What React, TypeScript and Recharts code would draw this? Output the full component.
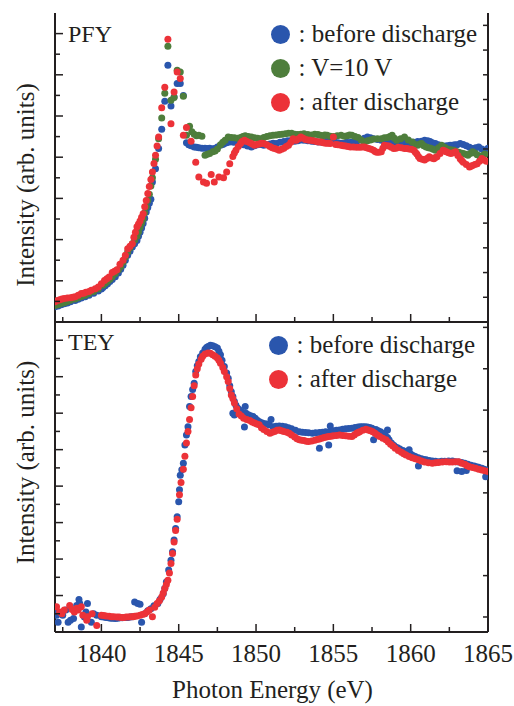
import { ScatterChart, Scatter, XAxis, YAxis, Legend, Label } from "recharts";

// PFY panel (upper)
const pfyBeforeE = [
  1837.0, 1837.2, 1837.4, 1837.6, 1837.8, 1838.0, 1838.3, 1838.5, 1838.7, 1838.95,
  1839.2, 1839.5, 1839.8, 1840.0, 1840.1, 1840.25, 1840.4, 1840.55, 1840.7, 1840.9,
  1841.1, 1841.25, 1841.4, 1841.55, 1841.7, 1841.85, 1842.0, 1842.15, 1842.3, 1842.4,
  1842.5, 1842.6, 1842.7, 1842.8, 1842.9, 1843.0, 1843.1, 1843.2, 1843.3, 1843.5,
  1843.7, 1843.9, 1844.1, 1844.3, 1844.5, 1844.7, 1844.9, 1845.1, 1845.3, 1845.5,
  1845.65, 1845.8, 1846.0, 1846.15, 1846.3, 1846.5, 1846.7, 1846.85, 1847.0, 1847.15,
  1847.3, 1847.5, 1847.7, 1847.85, 1847.95, 1848.1, 1848.3, 1848.55, 1848.8, 1849.0,
  1849.2, 1849.45, 1849.7, 1849.9, 1850.1, 1850.3, 1850.5, 1850.7, 1850.9, 1851.1,
  1851.3, 1851.55, 1851.8, 1852.05, 1852.3, 1852.5, 1852.7, 1852.9, 1853.1, 1853.35,
  1853.6, 1853.8, 1854.0, 1854.25, 1854.5, 1854.7, 1854.9, 1855.1, 1855.3, 1855.5,
  1855.7, 1855.85, 1856.0, 1856.15, 1856.3, 1856.55, 1856.8, 1857.0, 1857.2, 1857.4,
  1857.6, 1857.85, 1858.1, 1858.3, 1858.5, 1858.7, 1858.9, 1859.1, 1859.3, 1859.55,
  1859.8, 1860.0, 1860.2, 1860.45, 1860.7, 1860.9, 1861.1, 1861.25, 1861.4, 1861.6,
  1861.8, 1861.95, 1862.1, 1862.25, 1862.4, 1862.55, 1862.7, 1862.85, 1863.0, 1863.2,
  1863.4, 1863.6, 1863.8, 1864.0, 1864.2, 1864.4, 1864.6, 1864.8, 1865.0,
];
const pfyBeforeI = [
  0.37, 0.39, 0.42, 0.44, 0.46, 0.49, 0.52, 0.55, 0.58, 0.61,
  0.65, 0.70, 0.75, 0.80, 0.84, 0.88, 0.93, 0.98, 1.03, 1.10,
  1.19, 1.28, 1.38, 1.50, 1.62, 1.72, 1.82, 1.90, 1.98, 2.08,
  2.18, 2.28, 2.39, 2.52, 2.67, 2.78, 2.88, 2.98, 3.40, 3.72,
  4.21, 4.68, 5.36, 6.23, 5.24, 5.46, 5.79, 5.79, 5.50, 4.35,
  4.30, 4.28, 4.25, 4.24, 4.23, 4.22, 4.22, 4.21, 4.22, 4.20,
  4.21, 4.25, 4.29, 4.31, 4.33, 4.35, 4.37, 4.36, 4.37, 4.33,
  4.30, 4.27, 4.25, 4.28, 4.30, 4.31, 4.29, 4.30, 4.32, 4.34,
  4.33, 4.36, 4.38, 4.40, 4.41, 4.39, 4.40, 4.42, 4.41, 4.40,
  4.39, 4.38, 4.37, 4.36, 4.38, 4.39, 4.37, 4.36, 4.35, 4.34,
  4.33, 4.36, 4.35, 4.36, 4.37, 4.40, 4.42, 4.46, 4.49, 4.47,
  4.45, 4.43, 4.41, 4.39, 4.37, 4.35, 4.33, 4.34, 4.35, 4.34,
  4.33, 4.35, 4.36, 4.38, 4.39, 4.41, 4.40, 4.38, 4.35, 4.33,
  4.30, 4.27, 4.25, 4.27, 4.28, 4.29, 4.29, 4.30, 4.30, 4.33,
  4.31, 4.28, 4.24, 4.21, 4.23, 4.25, 4.20, 4.17, 4.22,
];

const pfyV10E = [
  1837.0, 1837.2, 1837.4, 1837.6, 1837.8, 1838.0, 1838.3, 1838.5, 1838.7, 1838.95,
  1839.2, 1839.5, 1839.8, 1840.1, 1840.25, 1840.4, 1840.55, 1840.7, 1840.9, 1841.1,
  1841.25, 1841.4, 1841.55, 1841.7, 1841.85, 1842.0, 1842.15, 1842.3, 1842.4, 1842.5,
  1842.6, 1842.7, 1842.8, 1842.9, 1843.0, 1843.1, 1843.2, 1843.3, 1843.5, 1843.7,
  1843.9, 1844.1, 1844.3, 1844.5, 1844.7, 1844.9, 1845.1, 1845.3, 1845.5, 1845.7,
  1845.85, 1846.0, 1846.15, 1846.3, 1846.5, 1846.7, 1846.85, 1847.0, 1847.2, 1847.35,
  1847.5, 1847.7, 1847.85, 1848.0, 1848.2, 1848.4, 1848.6, 1848.8, 1849.0, 1849.15,
  1849.3, 1849.5, 1849.7, 1849.9, 1850.1, 1850.3, 1850.5, 1850.7, 1850.9, 1851.1,
  1851.3, 1851.5, 1851.7, 1851.9, 1852.1, 1852.3, 1852.5, 1852.7, 1852.9, 1853.1,
  1853.35, 1853.6, 1853.8, 1854.0, 1854.15, 1854.3, 1854.45, 1854.6, 1854.8, 1855.0,
  1855.25, 1855.5, 1855.7, 1855.9, 1856.05, 1856.2, 1856.4, 1856.6, 1856.8, 1857.0,
  1857.2, 1857.4, 1857.6, 1857.85, 1858.1, 1858.3, 1858.5, 1858.65, 1858.8, 1858.95,
  1859.1, 1859.35, 1859.6, 1859.85, 1860.1, 1860.3, 1860.45, 1860.6, 1860.7, 1860.85,
  1861.0, 1861.15, 1861.3, 1861.45, 1861.6, 1861.8, 1862.0, 1862.2, 1862.4, 1862.6,
  1862.8, 1862.95, 1863.1, 1863.25, 1863.4, 1863.55, 1863.7, 1863.85, 1864.0, 1864.15,
  1864.3, 1864.5, 1864.65, 1864.8,
];
const pfyV10I = [
  0.40, 0.42, 0.45, 0.47, 0.50, 0.53, 0.56, 0.59, 0.62, 0.65,
  0.69, 0.74, 0.80, 0.89, 0.94, 0.99, 1.04, 1.10, 1.18, 1.27,
  1.35, 1.45, 1.58, 1.70, 1.80, 1.90, 1.99, 2.08, 2.19, 2.30,
  2.40, 2.50, 2.65, 2.80, 2.95, 3.10, 3.30, 3.50, 3.95, 4.45,
  4.95, 5.55, 6.69, 5.38, 5.45, 6.11, 6.07, 5.48, 4.53, 4.75,
  4.62, 4.56, 4.52, 4.53, 4.51, 4.05, 4.07, 4.09, 4.13, 4.15,
  4.20, 4.30, 4.36, 4.41, 4.49, 4.48, 4.47, 4.46, 4.48, 4.50,
  4.52, 4.50, 4.49, 4.47, 4.46, 4.45, 4.48, 4.50, 4.52, 4.53,
  4.54, 4.55, 4.56, 4.57, 4.58, 4.58, 4.56, 4.55, 4.56, 4.57,
  4.55, 4.54, 4.56, 4.55, 4.53, 4.52, 4.54, 4.53, 4.51, 4.50,
  4.52, 4.53, 4.51, 4.52, 4.54, 4.53, 4.50, 4.48, 4.42, 4.37,
  4.40, 4.42, 4.44, 4.45, 4.45, 4.47, 4.48, 4.50, 4.53, 4.46,
  4.41, 4.45, 4.49, 4.42, 4.37, 4.31, 4.29, 4.32, 4.33, 4.28,
  4.25, 4.23, 4.22, 4.19, 4.17, 4.23, 4.29, 4.24, 4.20, 4.18,
  4.17, 4.14, 4.12, 4.10, 4.09, 4.07, 4.05, 4.09, 4.13, 4.10,
  4.06, 4.00, 4.04, 4.08,
];

const pfyAfterE = [
  1837.0, 1837.15, 1837.3, 1837.45, 1837.6, 1837.8, 1838.0, 1838.15, 1838.3, 1838.5,
  1838.7, 1838.85, 1839.0, 1839.2, 1839.35, 1839.6, 1839.8, 1840.0, 1840.2, 1840.35,
  1840.5, 1840.7, 1840.85, 1841.0, 1841.2, 1841.4, 1841.55, 1841.7, 1841.85, 1842.0,
  1842.1, 1842.2, 1842.3, 1842.4, 1842.5, 1842.6, 1842.7, 1842.8, 1842.9, 1843.0,
  1843.1, 1843.2, 1843.3, 1843.4, 1843.5, 1843.6, 1843.7, 1843.9, 1844.1, 1844.3,
  1844.5, 1844.7, 1844.9, 1845.1, 1845.3, 1845.5, 1845.8, 1846.1, 1846.3, 1846.6,
  1846.8, 1847.1, 1847.3, 1847.6, 1847.9, 1848.1, 1848.3, 1848.5, 1848.6, 1848.7,
  1848.85, 1849.0, 1849.1, 1849.25, 1849.4, 1849.6, 1849.75, 1849.9, 1850.05, 1850.2,
  1850.35, 1850.5, 1850.7, 1850.9, 1851.05, 1851.2, 1851.35, 1851.5, 1851.65, 1851.8,
  1851.95, 1852.1, 1852.25, 1852.4, 1852.5, 1852.6, 1852.75, 1852.9, 1853.05, 1853.2,
  1853.35, 1853.5, 1853.7, 1853.9, 1854.05, 1854.2, 1854.35, 1854.5, 1854.65, 1854.8,
  1855.0, 1855.15, 1855.3, 1855.5, 1855.65, 1855.8, 1855.95, 1856.1, 1856.3, 1856.5,
  1856.7, 1856.85, 1857.0, 1857.15, 1857.3, 1857.45, 1857.6, 1857.7, 1857.8, 1857.95,
  1858.1, 1858.2, 1858.3, 1858.45, 1858.6, 1858.75, 1858.9, 1859.05, 1859.2, 1859.4,
  1859.6, 1859.75, 1859.9, 1860.05, 1860.2, 1860.3, 1860.4, 1860.5, 1860.6, 1860.75,
  1860.9, 1861.05, 1861.2, 1861.35, 1861.5, 1861.6, 1861.7, 1861.9, 1862.1, 1862.2,
  1862.3, 1862.45, 1862.6, 1862.75, 1862.9, 1863.05, 1863.2, 1863.3, 1863.4, 1863.6,
  1863.8, 1863.9, 1864.0, 1864.15, 1864.3, 1864.45, 1864.6, 1864.75, 1864.9,
];
const pfyAfterI = [
  0.49, 0.52, 0.54, 0.56, 0.57, 0.58, 0.59, 0.60, 0.61, 0.65,
  0.69, 0.70, 0.72, 0.74, 0.77, 0.81, 0.85, 0.93, 1.01, 1.05,
  1.09, 1.20, 1.23, 1.27, 1.40, 1.50, 1.62, 1.78, 1.84, 1.90,
  2.06, 2.18, 2.31, 2.38, 2.45, 2.54, 2.63, 2.80, 2.95, 3.12,
  3.29, 3.46, 3.64, 3.85, 4.05, 4.27, 4.49, 5.20, 5.70, 6.86,
  4.81, 5.58, 6.07, 5.91, 4.53, 4.72, 4.39, 3.88, 3.52, 3.40,
  3.37, 3.58, 3.40, 3.52, 3.50, 3.64, 3.84, 4.02, 4.10, 4.17,
  4.26, 4.33, 4.38, 4.41, 4.38, 4.35, 4.32, 4.29, 4.31, 4.32,
  4.34, 4.33, 4.30, 4.26, 4.23, 4.21, 4.19, 4.17, 4.19, 4.22,
  4.26, 4.29, 4.36, 4.45, 4.42, 4.41, 4.45, 4.49, 4.46, 4.43,
  4.42, 4.41, 4.40, 4.38, 4.37, 4.37, 4.35, 4.34, 4.34, 4.33,
  4.49, 4.31, 4.30, 4.29, 4.28, 4.27, 4.26, 4.25, 4.25, 4.24,
  4.24, 4.25, 4.25, 4.23, 4.21, 4.19, 4.17, 4.14, 4.12, 4.12,
  4.13, 4.22, 4.29, 4.28, 4.27, 4.24, 4.21, 4.22, 4.24, 4.23,
  4.21, 4.21, 4.20, 4.19, 4.17, 4.12, 4.08, 4.02, 3.97, 3.95,
  3.93, 3.97, 4.01, 3.98, 3.96, 3.99, 4.01, 4.09, 4.17, 4.15,
  4.13, 4.11, 4.09, 4.11, 4.13, 4.04, 3.96, 3.92, 3.88, 3.82,
  3.76, 3.78, 3.80, 3.82, 3.84, 3.90, 3.97, 3.93, 3.90,
];

// TEY panel (lower)
const teyBeforeE = [
  1837.0, 1837.1, 1837.2, 1837.4, 1837.5, 1837.7, 1837.85, 1838.0, 1838.2, 1838.4,
  1838.55, 1838.6, 1838.7, 1838.9, 1839.0, 1839.1, 1839.35, 1839.5, 1839.7, 1840.0,
  1840.15, 1840.3, 1840.45, 1840.6, 1840.75, 1840.9, 1841.05, 1841.2, 1841.35, 1841.5,
  1841.6, 1841.7, 1841.85, 1842.0, 1842.15, 1842.35, 1842.5, 1842.6, 1842.8, 1843.0,
  1843.2, 1843.4, 1843.65, 1843.8, 1844.0, 1844.1, 1844.2, 1844.35, 1844.5, 1844.6,
  1844.7, 1844.8, 1844.9, 1845.0, 1845.05, 1845.1, 1845.2, 1845.3, 1845.4, 1845.5,
  1845.6, 1845.7, 1845.8, 1845.9, 1846.0, 1846.1, 1846.2, 1846.3, 1846.4, 1846.55,
  1846.7, 1846.8, 1846.9, 1847.05, 1847.2, 1847.35, 1847.5, 1847.6, 1847.7, 1847.8,
  1847.95, 1848.1, 1848.2, 1848.3, 1848.4, 1848.5, 1848.5, 1848.6, 1848.6, 1848.7,
  1848.8, 1848.9, 1849.0, 1849.1, 1849.25, 1849.3, 1849.35, 1849.5, 1849.65, 1849.8,
  1849.95, 1850.1, 1850.25, 1850.4, 1850.55, 1850.7, 1850.85, 1850.97, 1851.1, 1851.3,
  1851.5, 1851.7, 1851.9, 1852.1, 1852.3, 1852.55, 1852.8, 1853.0, 1853.2, 1853.4,
  1853.65, 1853.85, 1854.1, 1854.1, 1854.3, 1854.5, 1854.7, 1854.8, 1854.8, 1855.0,
  1855.2, 1855.4, 1855.6, 1855.8, 1856.0, 1856.2, 1856.4, 1856.6, 1856.75, 1856.9,
  1857.05, 1857.2, 1857.35, 1857.5, 1857.6, 1857.75, 1857.9, 1858.05, 1858.2, 1858.35,
  1858.5, 1858.5, 1858.6, 1858.75, 1858.9, 1859.0, 1859.15, 1859.3, 1859.5, 1859.7,
  1859.9, 1860.0, 1860.15, 1860.3, 1860.5, 1860.5, 1860.7, 1860.85, 1861.0, 1861.2,
  1861.4, 1861.6, 1861.8, 1862.0, 1862.2, 1862.45, 1862.7, 1862.9, 1863.0, 1863.1,
  1863.3, 1863.3, 1863.5, 1863.6, 1863.7, 1863.9, 1864.1, 1864.25, 1864.4, 1864.6,
  1864.75, 1864.85, 1864.9,
];
const teyBeforeI = [
  0.64, 0.46, 0.27, 0.50, 0.46, 0.60, 0.27, 0.32, 0.37, 0.73,
  0.89, 0.78, 0.14, 0.41, 0.55, 0.78, 0.27, 0.50, 0.46, 0.42,
  0.41, 0.40, 0.39, 0.38, 0.38, 0.37, 0.38, 0.39, 0.39, 0.40,
  0.40, 0.40, 0.41, 0.42, 0.82, 0.78, 0.76, 0.27, 0.50, 0.58,
  0.64, 0.72, 0.78, 0.90, 1.05, 1.20, 1.37, 1.70, 1.97, 2.20,
  2.52, 2.84, 3.16, 3.57, 3.90, 4.30, 4.45, 4.63, 5.13, 5.40,
  5.63, 6.18, 6.46, 6.65, 6.82, 7.14, 7.30, 7.42, 7.55, 7.65,
  7.75, 7.80, 7.83, 7.86, 7.85, 7.82, 7.79, 7.70, 7.60, 7.45,
  7.28, 7.10, 6.96, 6.75, 6.59, 6.46, 6.00, 6.32, 5.95, 6.22,
  6.14, 6.10, 6.05, 6.02, 5.62, 6.18, 6.00, 5.96, 5.93, 5.91,
  5.86, 5.80, 5.76, 5.73, 5.71, 5.70, 5.68, 5.83, 5.63, 5.64,
  5.65, 5.64, 5.63, 5.60, 5.57, 5.53, 5.49, 5.48, 5.47, 5.46,
  5.45, 5.46, 5.04, 5.47, 5.48, 5.49, 5.13, 5.65, 5.50, 5.52,
  5.53, 5.54, 5.56, 5.57, 5.58, 5.59, 5.61, 5.62, 5.63, 5.63,
  5.63, 5.62, 5.61, 5.59, 5.27, 5.55, 5.52, 5.49, 5.45, 5.40,
  5.54, 5.33, 5.27, 5.18, 5.12, 5.08, 5.05, 5.02, 4.98, 4.95,
  5.00, 4.88, 4.84, 4.81, 4.55, 4.78, 4.75, 4.73, 4.72, 4.70,
  4.69, 4.68, 4.67, 4.68, 4.68, 4.69, 4.69, 4.67, 4.42, 4.66,
  4.40, 4.65, 4.63, 4.43, 4.60, 4.57, 4.55, 4.53, 4.52, 4.49,
  4.46, 4.26, 4.44,
];

const teyAfterE = [
  1837.1, 1837.3, 1837.45, 1837.6, 1837.95, 1838.1, 1838.25, 1838.4, 1838.5, 1838.7,
  1838.8, 1839.05, 1839.1, 1839.4, 1839.7, 1840.0, 1840.15, 1840.3, 1840.5, 1840.65,
  1840.8, 1841.0, 1841.15, 1841.3, 1841.45, 1841.6, 1841.75, 1841.9, 1842.05, 1842.15,
  1842.3, 1842.5, 1842.65, 1842.8, 1842.95, 1843.1, 1843.3, 1843.45, 1843.6, 1843.75,
  1843.9, 1844.0, 1844.1, 1844.2, 1844.3, 1844.4, 1844.5, 1844.6, 1844.7, 1844.8,
  1844.9, 1845.05, 1845.15, 1845.3, 1845.4, 1845.5, 1845.6, 1845.7, 1845.8, 1845.9,
  1846.0, 1846.1, 1846.2, 1846.3, 1846.45, 1846.55, 1846.7, 1846.9, 1847.05, 1847.2,
  1847.35, 1847.5, 1847.6, 1847.7, 1847.85, 1847.95, 1848.1, 1848.2, 1848.3, 1848.4,
  1848.5, 1848.6, 1848.75, 1848.9, 1849.05, 1849.2, 1849.4, 1849.6, 1849.75, 1849.9,
  1850.05, 1850.2, 1850.35, 1850.5, 1850.7, 1850.9, 1851.05, 1851.2, 1851.35, 1851.5,
  1851.65, 1851.8, 1852.0, 1852.15, 1852.3, 1852.5, 1852.65, 1852.8, 1852.95, 1853.1,
  1853.25, 1853.4, 1853.6, 1853.8, 1853.95, 1854.1, 1854.25, 1854.4, 1854.55, 1854.7,
  1854.85, 1855.0, 1855.2, 1855.4, 1855.6, 1855.8, 1856.0, 1856.2, 1856.35, 1856.5,
  1856.6, 1856.7, 1856.9, 1857.1, 1857.25, 1857.4, 1857.55, 1857.7, 1857.85, 1858.0,
  1858.2, 1858.4, 1858.55, 1858.7, 1858.85, 1859.0, 1859.2, 1859.4, 1859.55, 1859.7,
  1859.9, 1860.1, 1860.3, 1860.5, 1860.7, 1860.9, 1861.15, 1861.4, 1861.6, 1861.8,
  1862.05, 1862.3, 1862.5, 1862.7, 1862.9, 1863.1, 1863.3, 1863.5, 1863.65, 1863.8,
  1864.0, 1864.2, 1864.4, 1864.6, 1864.8, 1865.0,
];
const teyAfterI = [
  0.69, 0.55, 0.50, 0.60, 0.73, 0.62, 0.55, 0.65, 0.60, 0.69,
  0.46, 0.32, 0.42, 0.50, 0.18, 0.46, 0.45, 0.44, 0.43, 0.42,
  0.42, 0.41, 0.41, 0.40, 0.40, 0.41, 0.41, 0.42, 0.42, 0.43,
  0.44, 0.46, 0.48, 0.50, 0.55, 0.60, 0.42, 0.68, 0.78, 0.86,
  0.96, 1.07, 1.19, 1.30, 1.42, 1.62, 1.88, 2.15, 2.47, 2.78,
  3.09, 3.76, 4.10, 4.46, 4.82, 5.18, 5.50, 5.83, 6.15, 6.46,
  6.75, 7.05, 7.22, 7.35, 7.48, 7.56, 7.62, 7.65, 7.64, 7.60,
  7.56, 7.51, 7.45, 7.37, 7.25, 7.14, 7.00, 6.87, 6.68, 6.50,
  6.40, 6.28, 6.12, 5.98, 5.92, 5.86, 5.83, 5.80, 5.76, 5.73,
  5.70, 5.68, 5.60, 5.55, 5.50, 5.45, 5.48, 5.50, 5.53, 5.54,
  5.52, 5.50, 5.48, 5.45, 5.40, 5.35, 5.30, 5.27, 5.26, 5.25,
  5.23, 5.22, 5.24, 5.26, 5.28, 5.29, 5.31, 5.33, 5.35, 5.36,
  5.37, 5.38, 5.39, 5.40, 5.39, 5.38, 5.37, 5.36, 5.40, 5.45,
  5.47, 5.49, 5.53, 5.56, 5.54, 5.52, 5.49, 5.45, 5.40, 5.36,
  5.31, 5.27, 5.21, 5.15, 5.10, 5.04, 4.98, 4.93, 4.89, 4.85,
  4.81, 4.78, 4.75, 4.72, 4.69, 4.66, 4.64, 4.63, 4.64, 4.65,
  4.66, 4.67, 4.66, 4.66, 4.67, 4.67, 4.63, 4.60, 4.56, 4.53,
  4.51, 4.49, 4.46, 4.44, 4.42, 4.40,
];

const pfyLegendLabels = ["before discharge", "V=10 V", "after discharge"];
const teyLegendLabels = ["before discharge", "after discharge"];

const xTicks = [1837.5, 1840, 1842.5, 1845, 1847.5, 1850, 1852.5, 1855, 1857.5, 1860, 1862.5, 1865];
const pfyLeftTicks = [0.5, 1, 1.5, 2, 2.5, 3, 3.5, 4, 4.5, 5, 5.5, 6, 6.5, 7];
const pfyRightTicks = [1, 2, 3, 4, 5, 6, 7, 8, 9, 10, 11, 12];
const teyLeftTicks = [0.5, 1, 1.5, 2, 2.5, 3, 3.5, 4, 4.5, 5, 5.5, 6, 6.5, 7, 7.5, 8];
const teyRightTicks = [0, 1, 2, 3, 4, 5, 6, 7];

const BLUE = "#2a56ad";
const GREEN = "#4e7e3c";
const RED = "#ec3238";
const INK = "#231f20";
const FONT = "'Liberation Serif', 'Times New Roman', serif";

const toPoints = (e: number[], v: number[]) => e.map((x, i) => ({ x, y: v[i] }));

const dot = (color: string) => (props: any) =>
  <circle cx={props.cx} cy={props.cy} r={3.5} fill={color} />;

function BottomTick(props: any) {
  const { x, y, payload, showLabel } = props;
  const major = payload.value % 5 === 0;
  return (
    <g>
      <line x1={x} x2={x} y1={y} y2={y - (major ? 8 : 5)} stroke={INK} strokeWidth={1.5} />
      {showLabel && major && (
        <text x={x} y={y + 30} textAnchor="middle" fontFamily={FONT} fontSize={25} fill={INK}>
          {payload.value}
        </text>
      )}
    </g>
  );
}

function LeftTick(props: any) {
  const { x, y, payload } = props;
  const major = Number.isInteger(payload.value);
  return <line x1={x} x2={x + (major ? 8 : 5)} y1={y} y2={y} stroke={INK} strokeWidth={1.5} />;
}

function RightTick(props: any) {
  const { x, y } = props;
  return <line x1={x} x2={x - 5} y1={y} y2={y} stroke={INK} strokeWidth={1.5} />;
}

// legend drawn from our own label/colour lists so the order stays as in the figure
function LegendBox({ labels, colors }: any) {
  return (
    <div style={{ fontFamily: FONT, fontSize: 25, color: INK }}>
      {labels.map((label: string, i: number) => (
        <div key={label} style={{ display: "flex", alignItems: "center", height: 34, whiteSpace: "nowrap" }}>
          <span
            style={{
              display: "inline-block",
              width: 19,
              height: 19,
              borderRadius: "50%",
              background: colors[i],
              marginRight: 9,
            }}
          />
          <span>: {label}</span>
        </div>
      ))}
    </div>
  );
}

const yTitle = (cy: number) => () => (
  <text
    x={33.5}
    y={cy}
    transform={`rotate(-90, 33.5, ${cy})`}
    textAnchor="middle"
    fontFamily={FONT}
    fontSize={25}
    fill={INK}
  >
    Intensity (arb. units)
  </text>
);

const panelTag = (label: string, y: number) => () => (
  <text x={68} y={y} fontFamily={FONT} fontSize={24} fill={INK}>
    {label}
  </text>
);

export default function App() {
  return (
    <div style={{ position: "absolute", left: 0, top: 0, width: 514, height: 706, background: "#fff" }}>
      <div style={{ position: "absolute", left: 0, top: 0 }}>
        <ScatterChart width={514} height={330} margin={{ top: 13, right: 0, bottom: 0, left: 0 }}>
          <XAxis
            xAxisId="b"
            type="number"
            dataKey="x"
            domain={[1837, 1865]}
            ticks={xTicks}
            interval={0}
            allowDataOverflow
            height={8}
            tickSize={0}
            tickMargin={0}
            tickLine={false}
            axisLine={{ stroke: INK, strokeWidth: 2 }}
            tick={<BottomTick showLabel={false} />}
          />
          <XAxis
            xAxisId="t"
            orientation="top"
            type="number"
            domain={[1837, 1865]}
            allowDataOverflow
            height={0}
            tick={false}
            tickLine={false}
            axisLine={{ stroke: INK, strokeWidth: 2 }}
          />
          <YAxis
            yAxisId="l"
            type="number"
            dataKey="y"
            domain={[0, 7.5]}
            ticks={pfyLeftTicks}
            interval={0}
            allowDataOverflow
            width={55}
            tickSize={0}
            tickMargin={0}
            tickLine={false}
            axisLine={{ stroke: INK, strokeWidth: 2 }}
            tick={<LeftTick />}
          >
            <Label content={yTitle(185)} />
            <Label content={panelTag("PFY", 42)} />
          </YAxis>
          <YAxis
            yAxisId="r"
            orientation="right"
            type="number"
            domain={[0, 12.5]}
            ticks={pfyRightTicks}
            interval={0}
            allowDataOverflow
            width={26}
            tickSize={0}
            tickMargin={0}
            tickLine={false}
            axisLine={{ stroke: INK, strokeWidth: 2 }}
            tick={<RightTick />}
          />
          <Scatter
            name="before discharge"
            data={toPoints(pfyBeforeE, pfyBeforeI)}
            xAxisId="b"
            yAxisId="l"
            fill={BLUE}
            shape={dot(BLUE)}
            isAnimationActive={false}
          />
          <Scatter
            name="V=10 V"
            data={toPoints(pfyV10E, pfyV10I)}
            xAxisId="b"
            yAxisId="l"
            fill={GREEN}
            shape={dot(GREEN)}
            isAnimationActive={false}
          />
          <Scatter
            name="after discharge"
            data={toPoints(pfyAfterE, pfyAfterI)}
            xAxisId="b"
            yAxisId="l"
            fill={RED}
            shape={dot(RED)}
            isAnimationActive={false}
          />
          <Legend
            layout="vertical"
            align="center"
            verticalAlign="middle"
            content={<LegendBox labels={pfyLegendLabels} colors={[BLUE, GREEN, RED]} />}
            wrapperStyle={{ left: 270.5, top: 17, width: "auto" }}
          />
        </ScatterChart>
      </div>

      <div style={{ position: "absolute", left: 0, top: 322 }}>
        <ScatterChart width={514} height={384} margin={{ top: 0, right: 0, bottom: 0, left: 0 }}>
          <XAxis
            xAxisId="b"
            type="number"
            dataKey="x"
            domain={[1837, 1865]}
            ticks={xTicks}
            interval={0}
            allowDataOverflow
            height={74}
            tickSize={0}
            tickMargin={0}
            tickLine={false}
            axisLine={{ stroke: INK, strokeWidth: 2 }}
            tick={<BottomTick showLabel />}
          >
            <Label
              content={() => (
                <text x={272.5} y={376} textAnchor="middle" fontFamily={FONT} fontSize={25} fill={INK}>
                  Photon Energy (eV)
                </text>
              )}
            />
          </XAxis>
          <YAxis
            yAxisId="l"
            type="number"
            dataKey="y"
            domain={[0, 8.5]}
            ticks={teyLeftTicks}
            interval={0}
            allowDataOverflow
            width={55}
            tickSize={0}
            tickMargin={0}
            tickLine={false}
            axisLine={{ stroke: INK, strokeWidth: 2 }}
            tick={<LeftTick />}
          >
            <Label content={yTitle(140.5)} />
            <Label content={panelTag("TEY", 28)} />
          </YAxis>
          <YAxis
            yAxisId="r"
            orientation="right"
            type="number"
            domain={[-0.363, 7.13]}
            ticks={teyRightTicks}
            interval={0}
            allowDataOverflow
            width={26}
            tickSize={0}
            tickMargin={0}
            tickLine={false}
            axisLine={{ stroke: INK, strokeWidth: 2 }}
            tick={<RightTick />}
          />
          <Scatter
            name="before discharge"
            data={toPoints(teyBeforeE, teyBeforeI)}
            xAxisId="b"
            yAxisId="l"
            fill={BLUE}
            shape={dot(BLUE)}
            isAnimationActive={false}
          />
          <Scatter
            name="after discharge"
            data={toPoints(teyAfterE, teyAfterI)}
            xAxisId="b"
            yAxisId="l"
            fill={RED}
            shape={dot(RED)}
            isAnimationActive={false}
          />
          <Legend
            layout="vertical"
            align="center"
            verticalAlign="middle"
            content={<LegendBox labels={teyLegendLabels} colors={[BLUE, RED]} />}
            wrapperStyle={{ left: 268.5, top: 6, width: "auto" }}
          />
        </ScatterChart>
      </div>
    </div>
  );
}
